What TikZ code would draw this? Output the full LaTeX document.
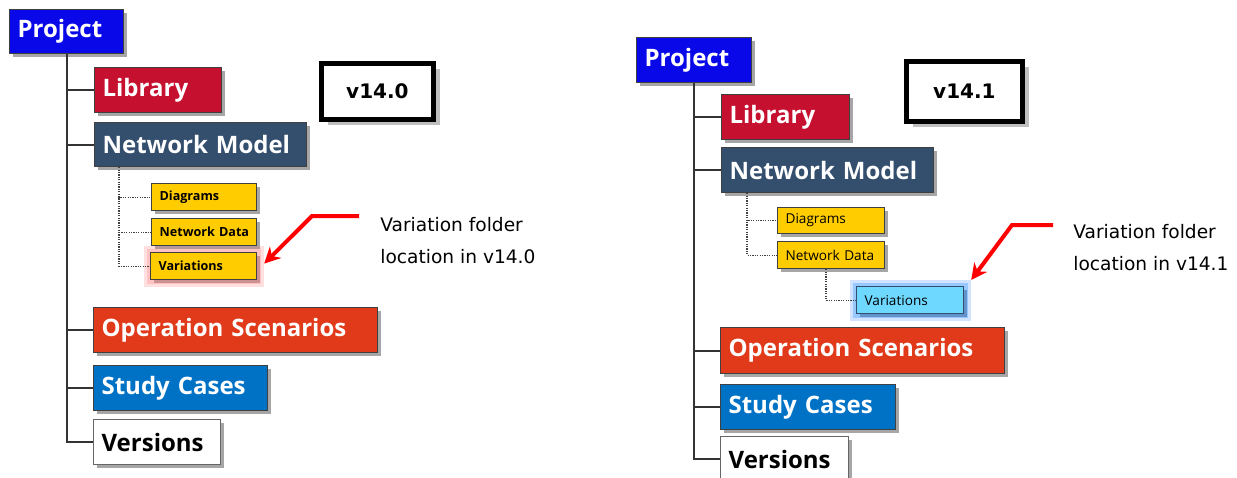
\documentclass[tikz,border=0pt]{standalone}
\usepackage{fontspec}
\setmainfont{Open Sans}
\newfontfamily\annfont{DejaVu Sans}
\newfontfamily\verfont{DejaVu Sans}
\usetikzlibrary{shadows,calc,arrows.meta}
\definecolor{projblue}{HTML}{0808E8}
\definecolor{libred}{HTML}{C5102F}
\definecolor{nmblue}{HTML}{344E6E}
\definecolor{foldyellow}{HTML}{FFCC00}
\definecolor{opsred}{HTML}{E03A1A}
\definecolor{studyblue}{HTML}{0072C6}
\definecolor{varcyan}{HTML}{6FD8FF}
\newcommand\mybox[7]{%
  \pgfmathsetmacro\bw{#4*0.5}%
  \pgfmathsetmacro\bh{#5*0.5}%
  \pgfmathsetmacro\tw{#4*0.5-6}%
  \node[#1, minimum width=\bw pt, minimum height=\bh pt, text width=\tw pt] (#6) at (#2,#3) {#7};}
\begin{document}
\begin{tikzpicture}[x=0.5pt,y=-0.5pt,
  boxbase/.style={draw=black!75, line width=0.6pt, anchor=north west, inner xsep=3pt, inner ysep=0pt, align=left,
    drop shadow={shadow xshift=1.5pt, shadow yshift=-1.5pt, opacity=0.35, fill=black}},
  bigbox/.style={boxbase, font=\bfseries\fontsize{12}{12}\selectfont, text=white},
  smallbold/.style={boxbase, fill=foldyellow, font=\bfseries\fontsize{6.3}{6.3}\selectfont},
  smallreg/.style={boxbase, fill=foldyellow, font=\fontsize{6.8}{6.8}\selectfont},
  treeline/.style={draw=black!80, line width=0.9pt},
  dotline/.style={draw=black!75, line width=0.6pt, dash pattern=on 0.6pt off 0.6pt},
  redarrow/.style={draw=red, line width=2pt, -{Stealth[length=8pt,width=8pt]}},
  annot/.style={font=\annfont\fontsize{9.3}{16}\selectfont, align=left, anchor=west, inner sep=0pt},
  verbox/.style={draw=black, line width=2.4pt, fill=white, anchor=north west, inner sep=0pt,
    font=\verfont\bfseries\fontsize{10}{10}\selectfont,
    drop shadow={shadow xshift=3.5pt, shadow yshift=-3pt, opacity=1, fill=black!25}},
  redglow/.style={preaction={draw=red!60, line width=7pt, opacity=0.2, rounded corners=3pt}, preaction={draw=red!50, line width=4pt, opacity=0.3}},
  blueglow/.style={preaction={draw=blue!60!cyan, line width=7pt, opacity=0.18, rounded corners=3pt}, preaction={draw=blue!50!cyan, line width=4pt, opacity=0.28}}
]
\useasboundingbox (0,0) rectangle (1237,477);

% ---------------- left: v14.0 ----------------
\mybox{bigbox, fill=projblue}{9}{9}{114}{44}{p1}{\hspace*{1pt}Project}
\mybox{bigbox, fill=libred}{94}{67}{127}{45}{l1}{\hspace*{1pt}Library}
\mybox{bigbox, fill=nmblue}{94}{122}{212}{44}{n1}{\hspace*{1pt}Network Model}
\mybox{smallbold}{151}{183}{105}{27}{dg1}{\hspace*{1pt}Diagrams}
\mybox{smallbold}{151}{218}{105}{27}{nd1}{\hspace*{1pt}Network Data}
\mybox{smallbold, redglow}{150}{252}{106}{27}{v1}{\hspace*{1pt}Variations}
\mybox{bigbox, fill=opsred}{93}{307}{284}{45}{o1}{\hspace*{1pt}Operation Scenarios}
\mybox{bigbox, fill=studyblue}{93}{365}{174}{45}{s1}{\hspace*{1pt}Study Cases}
\mybox{bigbox, fill=white, text=black, draw=black!60}{93}{419}{127}{45}{r1}{\hspace*{1pt}Versions}
\node[verbox, minimum width=56pt, minimum height=28pt] (vb1) at (319,61) {v14.0};

\draw[treeline] (p1.south) |- (l1.west);
\draw[treeline] (p1.south) |- (n1.west);
\draw[treeline] (p1.south) |- (o1.west);
\draw[treeline] (p1.south) |- (s1.west);
\draw[treeline] (p1.south) |- (r1.west);
\coordinate (d1) at ($(n1.south west)+(25,0)$);
\draw[dotline] (d1) |- (dg1.west);
\draw[dotline] (d1) |- (nd1.west);
\draw[dotline] (d1) |- (v1.west);

\coordinate (a1s) at (359,216);
\coordinate (a1b) at (312,216);
\draw[redarrow] (a1s) -- (a1b) -- ($(v1.east)+(7,-2.5)$);
\node[annot] (t1) at (380,241) {Variation folder\\location in v14.0};

% ---------------- right: v14.1 ----------------
\mybox{bigbox, fill=projblue}{636}{37}{115}{45}{p2}{\hspace*{1pt}Project}
\mybox{bigbox, fill=libred}{721}{94}{128}{45}{l2}{\hspace*{1pt}Library}
\mybox{bigbox, fill=nmblue}{721}{147}{212}{45}{n2}{\hspace*{1pt}Network Model}
\mybox{smallreg}{777}{207}{107}{26}{dg2}{\hspace*{1pt}Diagrams}
\mybox{smallreg}{777}{241}{107}{27}{nd2}{\hspace*{1pt}Network Data}
\mybox{smallreg, fill=varcyan, draw=nmblue, blueglow}{856}{286}{107}{27}{v2}{\hspace*{1pt}Variations}
\mybox{bigbox, fill=opsred}{720}{327}{284}{46}{o2}{\hspace*{1pt}Operation Scenarios}
\mybox{bigbox, fill=studyblue}{720}{384}{175}{45}{s2}{\hspace*{1pt}Study Cases}
\mybox{bigbox, fill=white, text=black, draw=black!60}{720}{436}{128}{45}{r2}{\hspace*{1pt}Versions}
\node[verbox, minimum width=58pt, minimum height=30pt] (vb2) at (904,59) {v14.1};

\draw[treeline] (p2.south) |- (l2.west);
\draw[treeline] (p2.south) |- (n2.west);
\draw[treeline] (p2.south) |- (o2.west);
\draw[treeline] (p2.south) |- (s2.west);
\draw[treeline] (p2.south) |- (r2.west);
\coordinate (d2) at ($(n2.south west)+(26,0)$);
\draw[dotline] (d2) |- (dg2.west);
\draw[dotline] (d2) |- (nd2.west);
\coordinate (e2) at ($(nd2.south west)+(49,0)$);
\draw[dotline] (e2) |- (v2.west);

\coordinate (a2s) at (1053,225);
\coordinate (a2b) at (1012,225);
\draw[redarrow] (a2s) -- (a2b) -- ($(v2.north east)+(7,-6)$);
\node[annot] (t2) at (1073,247.5) {Variation folder\\location in v14.1};
\end{tikzpicture}
\end{document}
